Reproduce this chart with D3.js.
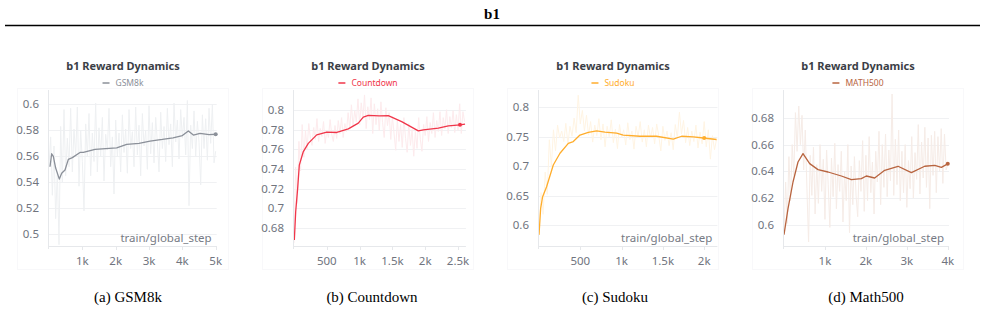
<!DOCTYPE html>
<html>
<head>
<meta charset="utf-8">
<script src="https://cdn.jsdelivr.net/npm/d3@7"></script>
<style>
  body { margin: 0; background: #fff; }
  svg { display: block; }
</style>
</head>
<body>
<div id="chart"></div>
<script>
// ---- data ----
const seriesNames = ["GSM8k", "Countdown", "Sudoku", "MATH500"];
const captions = ["(a) GSM8k", "(b) Countdown", "(c) Sudoku", "(d) Math500"];

// smoothed curves (step, value)
const gsmSmoothSteps = [30, 80, 130, 200, 310, 380, 480, 580, 700, 930, 1030, 1380, 1700, 2030, 2330, 2700, 3030, 3400, 3720, 4000, 4180, 4330, 4530, 4800, 5010];
const gsmSmoothVals  = [0.552, 0.562, 0.560, 0.551, 0.5425, 0.547, 0.5495, 0.5577, 0.559, 0.563, 0.563, 0.5654, 0.566, 0.5666, 0.5692, 0.570, 0.5718, 0.573, 0.5743, 0.576, 0.5795, 0.5764, 0.5777, 0.5768, 0.577];

const cdSmoothSteps = [5, 26, 56, 81, 142, 218, 346, 500, 652, 828, 980, 1056, 1133, 1300, 1437, 1641, 1895, 1971, 2200, 2353, 2530, 2607];
const cdSmoothVals  = [0.668, 0.697, 0.7206, 0.744, 0.7577, 0.766, 0.7746, 0.7774, 0.777, 0.7807, 0.7865, 0.7926, 0.7943, 0.7938, 0.794, 0.788, 0.7787, 0.7797, 0.7814, 0.7838, 0.7848, 0.7855];

const sdSmoothSteps = [0, 20, 44, 92, 173, 254, 355, 415, 496, 597, 698, 799, 940, 1020, 1222, 1424, 1626, 1727, 1868, 1990, 2150];
const sdSmoothVals  = [0.583, 0.628, 0.648, 0.665, 0.702, 0.722, 0.739, 0.742, 0.753, 0.7575, 0.760, 0.758, 0.7565, 0.753, 0.751, 0.751, 0.746, 0.751, 0.750, 0.748, 0.7455];

const mtSmoothSteps = [0, 98, 220, 342, 464, 627, 831, 1075, 1401, 1645, 1889, 2011, 2214, 2459, 2785, 3111, 3436, 3681, 3844, 4007];
const mtSmoothVals  = [0.5925, 0.612, 0.632, 0.647, 0.6533, 0.6458, 0.6413, 0.6395, 0.6365, 0.6338, 0.6345, 0.6365, 0.635, 0.6408, 0.6438, 0.639, 0.6438, 0.6445, 0.643, 0.6458];

// raw (unsmoothed) rewards, one value every rawEvery steps
const gsmRawEvery = 50;
const gsmRaw = [0.552, 0.575, 0.530, 0.568, 0.512, 0.548, 0.492, 0.583, 0.540, 0.596, 0.545, 0.574, 0.552, 0.597, 0.548, 0.581, 0.560, 0.598, 0.537, 0.580,
  0.556, 0.518, 0.585, 0.560, 0.593, 0.545, 0.578, 0.556, 0.601, 0.548, 0.582, 0.560, 0.590, 0.541, 0.577, 0.565, 0.597, 0.552, 0.575, 0.531,
  0.588, 0.560, 0.578, 0.548, 0.592, 0.563, 0.581, 0.547, 0.596, 0.566, 0.579, 0.552, 0.598, 0.561, 0.584, 0.545, 0.593, 0.568, 0.580, 0.550,
  0.599, 0.562, 0.586, 0.555, 0.590, 0.571, 0.548, 0.594, 0.566, 0.583, 0.556, 0.597, 0.569, 0.585, 0.552, 0.601, 0.571, 0.588, 0.558, 0.596,
  0.574, 0.590, 0.561, 0.603, 0.522, 0.584, 0.566, 0.595, 0.560, 0.587, 0.571, 0.538, 0.592, 0.566, 0.589, 0.557, 0.597, 0.570, 0.600, 0.555, 0.564];

const cdRawEvery = 25;
const cdRaw = [0.665, 0.742, 0.705, 0.768, 0.738, 0.785, 0.752, 0.779, 0.760, 0.786, 0.771, 0.764, 0.782, 0.770, 0.791, 0.768, 0.781, 0.773, 0.788, 0.766,
  0.779, 0.772, 0.790, 0.775, 0.768, 0.784, 0.771, 0.789, 0.776, 0.792, 0.772, 0.786, 0.778, 0.797, 0.781, 0.805, 0.783, 0.799, 0.788, 0.811,
  0.785, 0.807, 0.791, 0.815, 0.781, 0.803, 0.790, 0.812, 0.776, 0.806, 0.785, 0.801, 0.779, 0.808, 0.787, 0.772, 0.802, 0.784, 0.797, 0.770,
  0.793, 0.776, 0.759, 0.790, 0.768, 0.785, 0.762, 0.792, 0.771, 0.757, 0.786, 0.764, 0.780, 0.753, 0.778, 0.761, 0.792, 0.770, 0.758, 0.785,
  0.774, 0.793, 0.768, 0.787, 0.776, 0.797, 0.772, 0.789, 0.778, 0.798, 0.774, 0.792, 0.781, 0.800, 0.776, 0.793, 0.782, 0.799, 0.777, 0.795,
  0.779, 0.806, 0.776, 0.798, 0.788];

const sdRawEvery = 25;
const sdRaw = [0.585, 0.655, 0.618, 0.690, 0.652, 0.745, 0.700, 0.762, 0.726, 0.770, 0.748, 0.760, 0.742, 0.773, 0.738, 0.768, 0.751, 0.782, 0.757, 0.821,
  0.772, 0.795, 0.760, 0.787, 0.753, 0.776, 0.741, 0.770, 0.752, 0.781, 0.745, 0.772, 0.733, 0.768, 0.750, 0.779, 0.740, 0.763, 0.730, 0.771,
  0.748, 0.762, 0.736, 0.774, 0.745, 0.760, 0.729, 0.768, 0.750, 0.776, 0.741, 0.762, 0.733, 0.770, 0.748, 0.766, 0.738, 0.772, 0.752, 0.726,
  0.768, 0.744, 0.760, 0.735, 0.757, 0.728, 0.771, 0.748, 0.792, 0.755, 0.778, 0.740, 0.766, 0.735, 0.760, 0.742, 0.770, 0.731, 0.758, 0.738,
  0.776, 0.733, 0.762, 0.712, 0.752, 0.728, 0.746];

const mtRawEvery = 40;
const mtRaw = [0.593, 0.632, 0.601, 0.651, 0.618, 0.660, 0.637, 0.684, 0.655, 0.689, 0.660, 0.682, 0.641, 0.671, 0.627, 0.587, 0.652, 0.622, 0.658, 0.608,
  0.645, 0.616, 0.660, 0.625, 0.649, 0.604, 0.656, 0.630, 0.598, 0.650, 0.621, 0.661, 0.612, 0.645, 0.625, 0.655, 0.602, 0.640, 0.618, 0.660,
  0.594, 0.644, 0.615, 0.651, 0.622, 0.606, 0.648, 0.625, 0.663, 0.610, 0.652, 0.618, 0.666, 0.624, 0.647, 0.608, 0.655, 0.632, 0.670, 0.615,
  0.660, 0.628, 0.668, 0.621, 0.656, 0.633, 0.698, 0.622, 0.664, 0.630, 0.671, 0.618, 0.655, 0.624, 0.660, 0.613, 0.648, 0.627, 0.666, 0.620,
  0.654, 0.634, 0.675, 0.623, 0.662, 0.635, 0.673, 0.628, 0.665, 0.612, 0.667, 0.637, 0.670, 0.624, 0.666, 0.640, 0.672, 0.631, 0.668, 0.641, 0.645];

// axes
const gsmYTicks = [0.5, 0.52, 0.54, 0.56, 0.58, 0.6];
const cdYTicks  = [0.68, 0.7, 0.72, 0.74, 0.76, 0.78, 0.8];
const sdYTicks  = [0.6, 0.65, 0.7, 0.75, 0.8];
const mtYTicks  = [0.6, 0.62, 0.64, 0.66, 0.68];

const gsmXTicks = [1000, 2000, 3000, 4000, 5000];
const cdXTicks  = [500, 1000, 1500, 2000, 2500];
const sdXTicks  = [500, 1000, 1500, 2000];
const mtXTicks  = [1000, 2000, 3000, 4000];
const xTickLabel = d => d >= 1000 ? (d / 1000) + "k" : String(d);

const gsmYDomain = [0.491, 0.608], cdYDomain = [0.662, 0.816], sdYDomain = [0.564, 0.823], mtYDomain = [0.584, 0.698];
const gsmXDomain = [0, 5030], cdXDomain = [0, 2620], sdXDomain = [0, 2160], mtXDomain = [0, 4030];

// step where the hover dot sits
const markerSteps = [5000, 2530, 2000, 4000];

// ---- layout ----
const W = 985, H = 313;
const panelW = 245;
const plotTop = 94, plotBottom = 246;
const plotLeft = [49, 294, 539, 784];
const plotRight = [216.7, 465.9, 717.4, 949];
const colors = ["#8b9099", "#f0364a", "#ffad2c", "#b8643f"];
const rawColors = ["#eef0f2", "#fdebed", "#fff4e3", "#f6ece7"];
const showXLabel = [true, false, true, true];

const panels = [
  {steps: gsmSmoothSteps, vals: gsmSmoothVals, raw: gsmRaw, every: gsmRawEvery, yTicks: gsmYTicks, xTicks: gsmXTicks, yDom: gsmYDomain, xDom: gsmXDomain},
  {steps: cdSmoothSteps, vals: cdSmoothVals, raw: cdRaw, every: cdRawEvery, yTicks: cdYTicks, xTicks: cdXTicks, yDom: cdYDomain, xDom: cdXDomain},
  {steps: sdSmoothSteps, vals: sdSmoothVals, raw: sdRaw, every: sdRawEvery, yTicks: sdYTicks, xTicks: sdXTicks, yDom: sdYDomain, xDom: sdXDomain},
  {steps: mtSmoothSteps, vals: mtSmoothVals, raw: mtRaw, every: mtRawEvery, yTicks: mtYTicks, xTicks: mtXTicks, yDom: mtYDomain, xDom: mtXDomain}
];

const svg = d3.select("#chart").append("svg")
  .attr("width", W)
  .attr("height", H);

const sans = "'Noto Sans', 'Open Sans', sans-serif";
const serif = "'Liberation Serif', 'Times New Roman', serif";

// figure heading and rule
svg.append("text")
  .attr("x", 492).attr("y", 19)
  .attr("text-anchor", "middle")
  .style("font-family", serif).style("font-weight", "bold").style("font-size", "15px")
  .text("b1");
svg.append("line")
  .attr("x1", 5).attr("x2", 980).attr("y1", 25.5).attr("y2", 25.5)
  .attr("stroke", "#000").attr("stroke-width", 1.6);

const defs = svg.append("defs");

panels.forEach((p, i) => {
  const cx = 123 + panelW * i;
  const g = svg.append("g");

  // faint card outline
  g.append("rect")
    .attr("x", 17 + panelW * i + 0.5).attr("y", 88.5)
    .attr("width", 211).attr("height", 181)
    .attr("fill", "none").attr("stroke", "#f8f8fa");

  const x = d3.scaleLinear().domain(p.xDom).range([plotLeft[i], plotRight[i]]);
  const y = d3.scaleLinear().domain(p.yDom).range([plotBottom, plotTop]);

  // title + legend
  g.append("text")
    .attr("x", cx).attr("y", 70)
    .attr("text-anchor", "middle")
    .style("font-family", sans).style("font-weight", "bold").style("font-size", "11px")
    .attr("fill", "#3b3e46")
    .text("b1 Reward Dynamics");

  const leg = g.append("g");
  const legText = leg.append("text")
    .attr("x", 13).attr("y", 86)
    .style("font-family", sans).style("font-size", "8.5px")
    .attr("fill", colors[i])
    .text(seriesNames[i]);
  const lw = legText.node().getComputedTextLength() + 13;
  leg.append("line")
    .attr("x1", 0).attr("x2", 7).attr("y1", 83).attr("y2", 83)
    .attr("stroke", colors[i]).attr("stroke-width", 1.5);
  leg.attr("transform", `translate(${cx - lw / 2},0)`);

  // grid
  g.append("g").selectAll("line")
    .data(p.yTicks)
    .join("line")
    .attr("x1", plotLeft[i]).attr("x2", plotRight[i])
    .attr("y1", d => Math.round(y(d)) + 0.5).attr("y2", d => Math.round(y(d)) + 0.5)
    .attr("stroke", "#f0f1f3");

  // y tick labels
  g.append("g").selectAll("text")
    .data(p.yTicks)
    .join("text")
    .attr("x", plotLeft[i] - 10).attr("y", d => y(d) + 4)
    .attr("text-anchor", "end")
    .style("font-family", sans).style("font-size", "11.5px")
    .attr("fill", "#70747e")
    .text(d => String(d));

  // axes lines
  g.append("line")
    .attr("x1", plotLeft[i] - 0.5).attr("x2", plotLeft[i] - 0.5)
    .attr("y1", plotTop - 4).attr("y2", plotBottom + 3)
    .attr("stroke", "#e6e8eb");
  g.append("line")
    .attr("x1", plotLeft[i] - 1).attr("x2", plotRight[i])
    .attr("y1", plotBottom + 0.5).attr("y2", plotBottom + 0.5)
    .attr("stroke", "#e6e8eb");
  g.append("g").selectAll("line")
    .data(p.xTicks)
    .join("line")
    .attr("x1", d => Math.round(x(d)) + 0.5).attr("x2", d => Math.round(x(d)) + 0.5)
    .attr("y1", plotBottom).attr("y2", plotBottom + 4)
    .attr("stroke", "#e6e8eb");
  g.append("g").selectAll("text")
    .data(p.xTicks)
    .join("text")
    .attr("x", d => x(d)).attr("y", plotBottom + 19)
    .attr("text-anchor", "middle")
    .style("font-family", sans).style("font-size", "11.5px")
    .attr("fill", "#70747e")
    .text(xTickLabel);

  // clip
  defs.append("clipPath").attr("id", "clip" + i)
    .append("rect")
    .attr("x", plotLeft[i]).attr("y", plotTop - 4)
    .attr("width", plotRight[i] - plotLeft[i] + 2).attr("height", plotBottom - plotTop + 4);

  const plot = g.append("g").attr("clip-path", `url(#clip${i})`);

  const rawLine = d3.line()
    .x((d, k) => x(k * p.every))
    .y(d => y(d));
  plot.append("path")
    .attr("d", rawLine(p.raw))
    .attr("fill", "none")
    .attr("stroke", rawColors[i])
    .attr("stroke-width", 1);

  const smooth = p.steps.map((s, k) => [s, p.vals[k]]);
  const line = d3.line()
    .x(d => x(d[0]))
    .y(d => y(d[1]));
  plot.append("path")
    .attr("d", line(smooth))
    .attr("fill", "none")
    .attr("stroke", colors[i])
    .attr("stroke-width", 1.3)
    .attr("stroke-linejoin", "round");

  // hover dot at a step
  const ms = markerSteps[i];
  const mv = d3.scaleLinear().domain(p.steps).range(p.vals)(ms);
  plot.append("circle")
    .attr("cx", x(ms)).attr("cy", y(mv)).attr("r", 2)
    .attr("fill", colors[i]);

  if (showXLabel[i]) {
    g.append("text")
      .attr("x", plotRight[i] - 5).attr("y", plotBottom - 4.5)
      .attr("text-anchor", "end")
      .style("font-family", sans).style("font-size", "11.5px")
      .attr("fill", "#767a84")
      .text("train/global_step");
  }

  // caption
  svg.append("text")
    .attr("x", [128, 372, 615, 866][i]).attr("y", 302)
    .attr("text-anchor", "middle")
    .style("font-family", serif).style("font-size", "15px")
    .attr("fill", "#000")
    .text(captions[i]);
});
</script>
</body>
</html>
